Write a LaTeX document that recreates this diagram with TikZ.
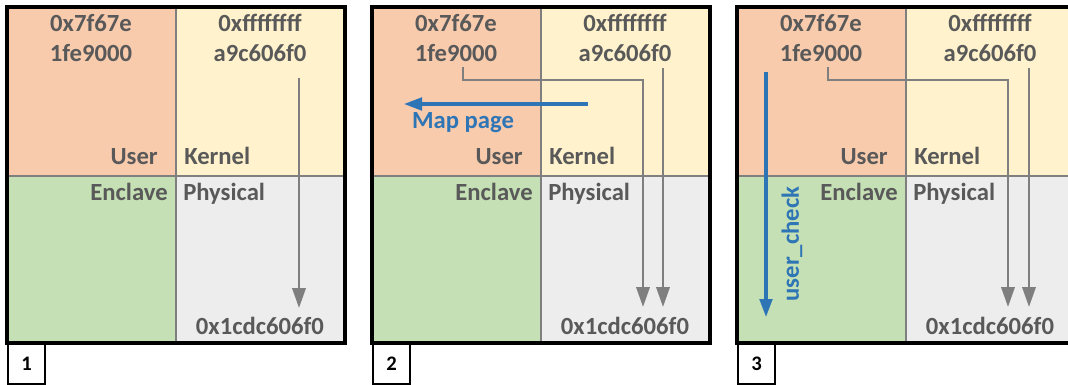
\documentclass[tikz,border=0pt]{standalone}
\usepackage{fontspec}
\setmainfont{Carlito}
\usetikzlibrary{arrows.meta}
\definecolor{userfill}{HTML}{F8CBAD}
\definecolor{kernfill}{HTML}{FFF2CC}
\definecolor{enclfill}{HTML}{C5E0B4}
\definecolor{physfill}{HTML}{EDEDED}
\definecolor{txtgray}{HTML}{595959}
\definecolor{lngray}{HTML}{7F7F7F}
\definecolor{callblue}{HTML}{2E75B6}
\tikzset{
  addr/.style={font=\bfseries\fontsize{18.5}{20}\selectfont,text=txtgray,inner sep=0pt},
  divider/.style={draw=lngray,line width=1.9pt},
  frame/.style={draw=black,line width=2.4pt},
  numbox/.style={draw=black,line width=1.8pt,fill=white,anchor=north west,
    minimum width=27.75pt,minimum height=30pt,inner sep=0pt,
    font=\bfseries\fontsize{15.5}{17}\selectfont},
  ptr/.style={draw=lngray,line width=2pt,-{Triangle[width=10pt,length=15pt]}},
  call/.style={draw=callblue,line width=2.3pt,-{Triangle[width=9.5pt,length=13.5pt]}},
  calllbl/.style={font=\bfseries\fontsize{18.5}{20}\selectfont,text=callblue,inner sep=0pt}
}
\begin{document}
\begin{tikzpicture}[x=0.75pt,y=-0.75pt]
\useasboundingbox (0,0) rectangle (1068,385);
% the three snapshots of the address spaces
\foreach \n in {1,2,3}{
\begin{scope}[xshift={(7+(\n-1)*365)*0.75pt}]
\fill[userfill] (0,7) rectangle (169,176);
\fill[kernfill] (169,7) rectangle (338,176);
\fill[enclfill] (0,176) rectangle (169,343);
\fill[physfill] (169,176) rectangle (338,343);
\draw[divider] (169,7) -- (169,343) (0,176) -- (338,176);
\draw[frame] (0,7) rectangle (338,343);
\node[addr,anchor=base] (uhi\n) at (84,32) {0x7f67e};
\node[addr,anchor=base] (ulo\n) at (84,62) {1fe9000};
\node[addr,anchor=base] (khi\n) at (253,32) {0xffffffff};
\node[addr,anchor=base] (klo\n) at (253,62) {a9c606f0};
\node[addr,anchor=base east] (user\n) at (151,165) {User};
\node[addr,anchor=base west] (kern\n) at (177,165) {Kernel};
\node[addr,anchor=base east] (encl\n) at (161,200) {Enclave};
\node[addr,anchor=base west] (phys\n) at (176,200) {Physical};
\node[addr,anchor=base] (paddr\n) at (253,334) {0x1cdc606f0};
\node[numbox] (step\n) at (0,343) {\n};
\end{scope}}
% 1: kernel mapping only
\coordinate (ks1) at (299,78);
\coordinate (ke1) at (299,308);
\draw[ptr] (ks1) -- (ke1);
% 2: user page mapped to the same frame
\coordinate (us2) at (463,67);
\coordinate (ue2) at (643,307);
\coordinate (ks2) at (663,68);
\coordinate (ke2) at (663,307);
\draw[ptr] (us2) -- ++(0,13) -| (ue2);
\draw[ptr] (ks2) -- (ke2);
\coordinate (ms) at (588,104);
\coordinate (me) at (404,104);
\draw[call] (ms) -- (me);
\node[calllbl,anchor=base] (maplbl) at (463,128) {Map page};
% 3: enclave check on the user address
\coordinate (us3) at (828,67);
\coordinate (ue3) at (1008,307);
\coordinate (ks3) at (1029,68);
\coordinate (ke3) at (1029,307);
\draw[ptr] (us3) -- ++(0,13) -| (ue3);
\draw[ptr] (ks3) -- (ke3);
\coordinate (cs) at (766,72);
\coordinate (ce) at (766,317);
\draw[call] (cs) -- (ce);
\node[calllbl,rotate=90] (chklbl) at (792,244) {user\_check};
\end{tikzpicture}
\end{document}
